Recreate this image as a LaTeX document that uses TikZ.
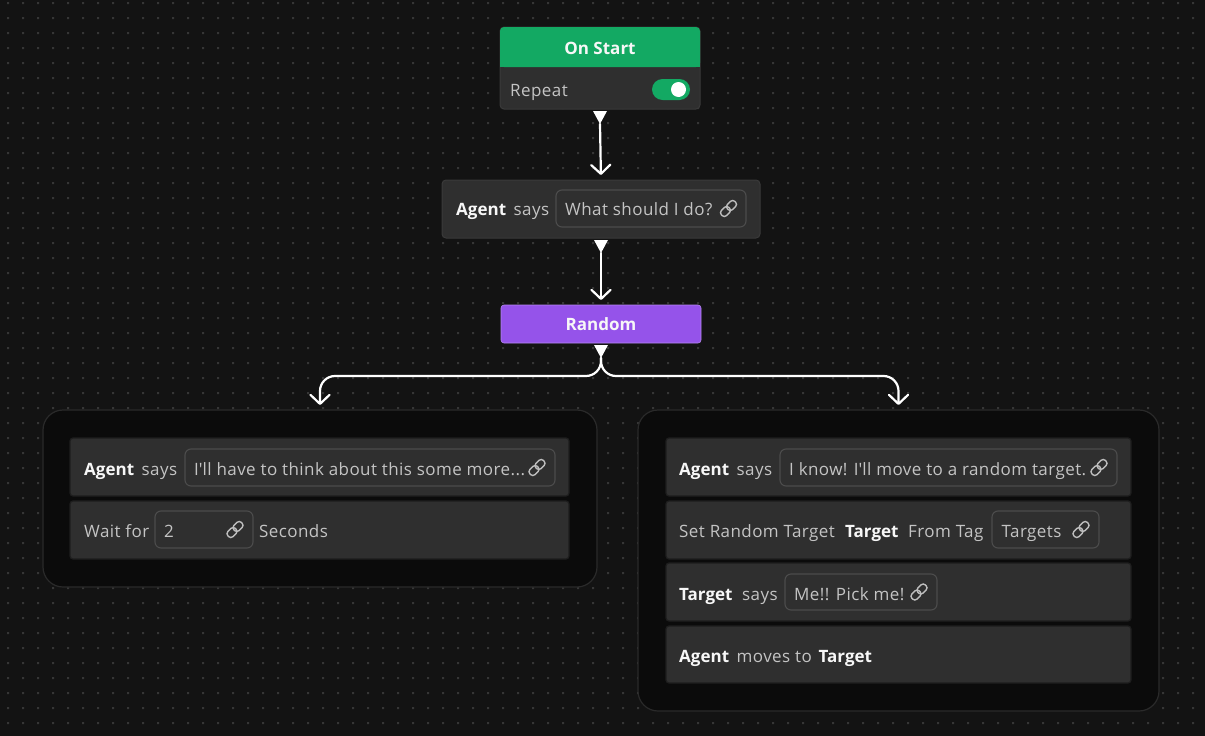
\documentclass[tikz,border=0pt]{standalone}
\usepackage{fontspec}
\setmainfont{Open Sans}[LetterSpace=2.5, BoldFeatures={LetterSpace=0}]
\usetikzlibrary{arrows.meta,calc}

\definecolor{canvas}{HTML}{131313}
\definecolor{dotc}{HTML}{363636}
\definecolor{cardfill}{HTML}{2F2F2F}
\definecolor{cardedge}{HTML}{3A3A3A}
\definecolor{blockedge}{HTML}{1E1E1E}
\definecolor{groupfill}{HTML}{0B0B0B}
\definecolor{groupedge}{HTML}{2A2A2A}
\definecolor{fieldedge}{HTML}{4C4C4C}
\definecolor{startgreen}{HTML}{13A963}
\definecolor{randpurple}{HTML}{9553EA}
\definecolor{softtext}{HTML}{C4C4C4}
\definecolor{strongtext}{HTML}{F7F7F7}
\definecolor{iconc}{HTML}{BDBDBD}

\newcommand\uifont{\fontsize{17}{20}\selectfont}
\newcommand\apos{\textquotesingle}

\tikzset{
  box/.style={anchor=north west, inner sep=0pt, outer sep=0pt},
  card/.style={box, fill=cardfill, draw=cardedge, line width=1pt, rounded corners=4pt},
  block/.style={box, fill=cardfill, draw=blockedge, line width=1.2pt, rounded corners=3pt},
  group/.style={box, fill=groupfill, draw=groupedge, line width=1.2pt, rounded corners=20pt},
  field/.style={box, draw=fieldedge, line width=1.1pt, rounded corners=6pt},
  soft/.style={anchor=base west, inner sep=0pt, text=softtext, font=\uifont},
  strong/.style={anchor=base west, inner sep=0pt, text=strongtext, font=\uifont\bfseries},
  title/.style={inner sep=0pt, text=strongtext, font=\uifont\bfseries},
  flow/.style={draw=white, line width=2.2pt, line cap=round, line join=round,
    -{Straight Barb[length=9pt,width=19pt,line cap=round,line join=round]}, shorten >=5pt},
  port/.style={fill=white},
  linkicon/.pic={
    \begin{scope}[rotate=45, draw=iconc, line width=1.4pt]
      \draw[rounded corners=3pt] (-9.5,-3.6) rectangle (1,3.6);
      \draw[rounded corners=3pt] (-1,-3.6) rectangle (9.5,3.6);
    \end{scope}
  }
}

\newcommand\portbelow[2]{%
  \coordinate (#2) at ($(#1.south)+(0,15)$);
  \fill[port] ($(#1.south)+(-7,2)$) -- ($(#1.south)+(7,2)$) -- (#2) -- cycle;
}

\begin{document}
\begin{tikzpicture}[x=1pt,y=-1pt]
  % canvas with dotted grid
  \fill[canvas] (0,0) rectangle (1205,736);
  \useasboundingbox (0,0) rectangle (1205,736);
  \fill[dotc] \foreach \i in {0,...,79} { \foreach \j in {0,...,48} {
      ({7+15*\i},{2+15*\j}) rectangle ++(2,2) } };

  % ---- On Start ----
  \node[card, minimum width=200pt, minimum height=82pt] (start) at (500,27) {};
  \node[box, fill=startgreen, rounded corners=4pt, minimum width=200pt, minimum height=40pt] (head) at (500,27) {};
  \fill[startgreen] (500,57) rectangle (700,67);
  \node[title] (starttxt) at (600,48) {On Start};
  \node[soft] (repeat) at (510,96) {Repeat};
  \node[box, fill=startgreen, rounded corners=10.5pt, minimum width=38pt, minimum height=21pt] (toggle) at (652,79) {};
  \fill[white] (678.5,89.5) circle (7.5);

  % ---- Agent says ----
  \node[card, minimum width=318pt, minimum height=58pt] (say0) at (442,180) {};
  \node[strong] (say0a) at (456,215.5) {Agent};
  \node[soft] (say0b) at (513.5,215.5) {says};
  \node[field, minimum width=190pt, minimum height=37pt] (f0) at (556,190) {};
  \node[soft] (f0t) at (565,215.5) {What should I do?};
  \pic at (728.5,208.5) {linkicon};

  % ---- Random ----
  \node[box, fill=randpurple, draw=randpurple!70!white, line width=0.6pt, rounded corners=3pt,
        minimum width=200pt, minimum height=38pt] (rnd) at (501,305) {};
  \node[title] (rndtxt) at (601,324.5) {Random};

  % ---- left branch ----
  \node[group, minimum width=554pt, minimum height=177pt] (lg) at (43,410) {};
  \node[block, minimum width=499pt, minimum height=58pt] (l1) at (70,438) {};
  \node[block, minimum width=499pt, minimum height=58pt] (l2) at (70,501) {};
  \node[strong] at (84,475) {Agent};
  \node[soft] at (141.5,475) {says};
  \node[field, minimum width=370pt, minimum height=37pt] (lf1) at (185,449) {};
  \node[soft] at (194,475) {I\apos ll have to think about this some more...};
  \pic at (537,467.5) {linkicon};
  \node[soft] at (84,537.5) {Wait for};
  \node[field, minimum width=98pt, minimum height=37pt] (lf2) at (155,511) {};
  \node[soft] at (164,537.5) {2};
  \pic at (235,529.5) {linkicon};
  \node[soft] at (259,537.5) {Seconds};

  % ---- right branch ----
  \node[group, minimum width=521pt, minimum height=301pt] (rg) at (638,410) {};
  \node[block, minimum width=465pt, minimum height=58pt] (r1) at (666,438) {};
  \node[block, minimum width=465pt, minimum height=58pt] (r2) at (666,501) {};
  \node[block, minimum width=465pt, minimum height=58pt] (r3) at (666,563) {};
  \node[block, minimum width=465pt, minimum height=57pt] (r4) at (666,626) {};
  \node[strong] at (679,475) {Agent};
  \node[soft] at (736.5,475) {says};
  \node[field, minimum width=337pt, minimum height=37pt] (rf1) at (780,449) {};
  \node[soft] at (789,475) {I know! I\apos ll move to a random target.};
  \pic at (1099,467.5) {linkicon};
  \node[soft] at (679,537.5) {Set Random Target};
  \node[strong] at (845,537.5) {Target};
  \node[soft] at (908,537.5) {From Tag};
  \node[field, minimum width=107pt, minimum height=37pt] (rf2) at (992,511) {};
  \node[soft] at (1001.5,537.5) {Targets};
  \pic at (1081,529.5) {linkicon};
  \node[strong] at (679,600) {Target};
  \node[soft] at (742,600) {says};
  \node[field, minimum width=152pt, minimum height=36pt] (rf3) at (785,574) {};
  \node[soft] at (794,600) {Me!! Pick me!};
  \pic at (919,592) {linkicon};
  \node[strong] at (679,662.5) {Agent};
  \node[soft] at (736.5,662.5) {moves to};
  \node[strong] at (818.5,662.5) {Target};

  % ---- connectors ----
  \portbelow{start}{p1}
  \portbelow{say0}{p2}
  \portbelow{rnd}{p3}
  \draw[flow] (p1) -- (say0.north);
  \draw[flow] (p2) -- (p2 |- rnd.north);
  \coordinate (bar) at (600,376);
  \draw[flow, rounded corners=15pt] (p3) |- (lg.north |- bar) -- (lg.north);
  \draw[flow, rounded corners=15pt] (p3) |- (rg.north |- bar) -- (rg.north);
\end{tikzpicture}
\end{document}
